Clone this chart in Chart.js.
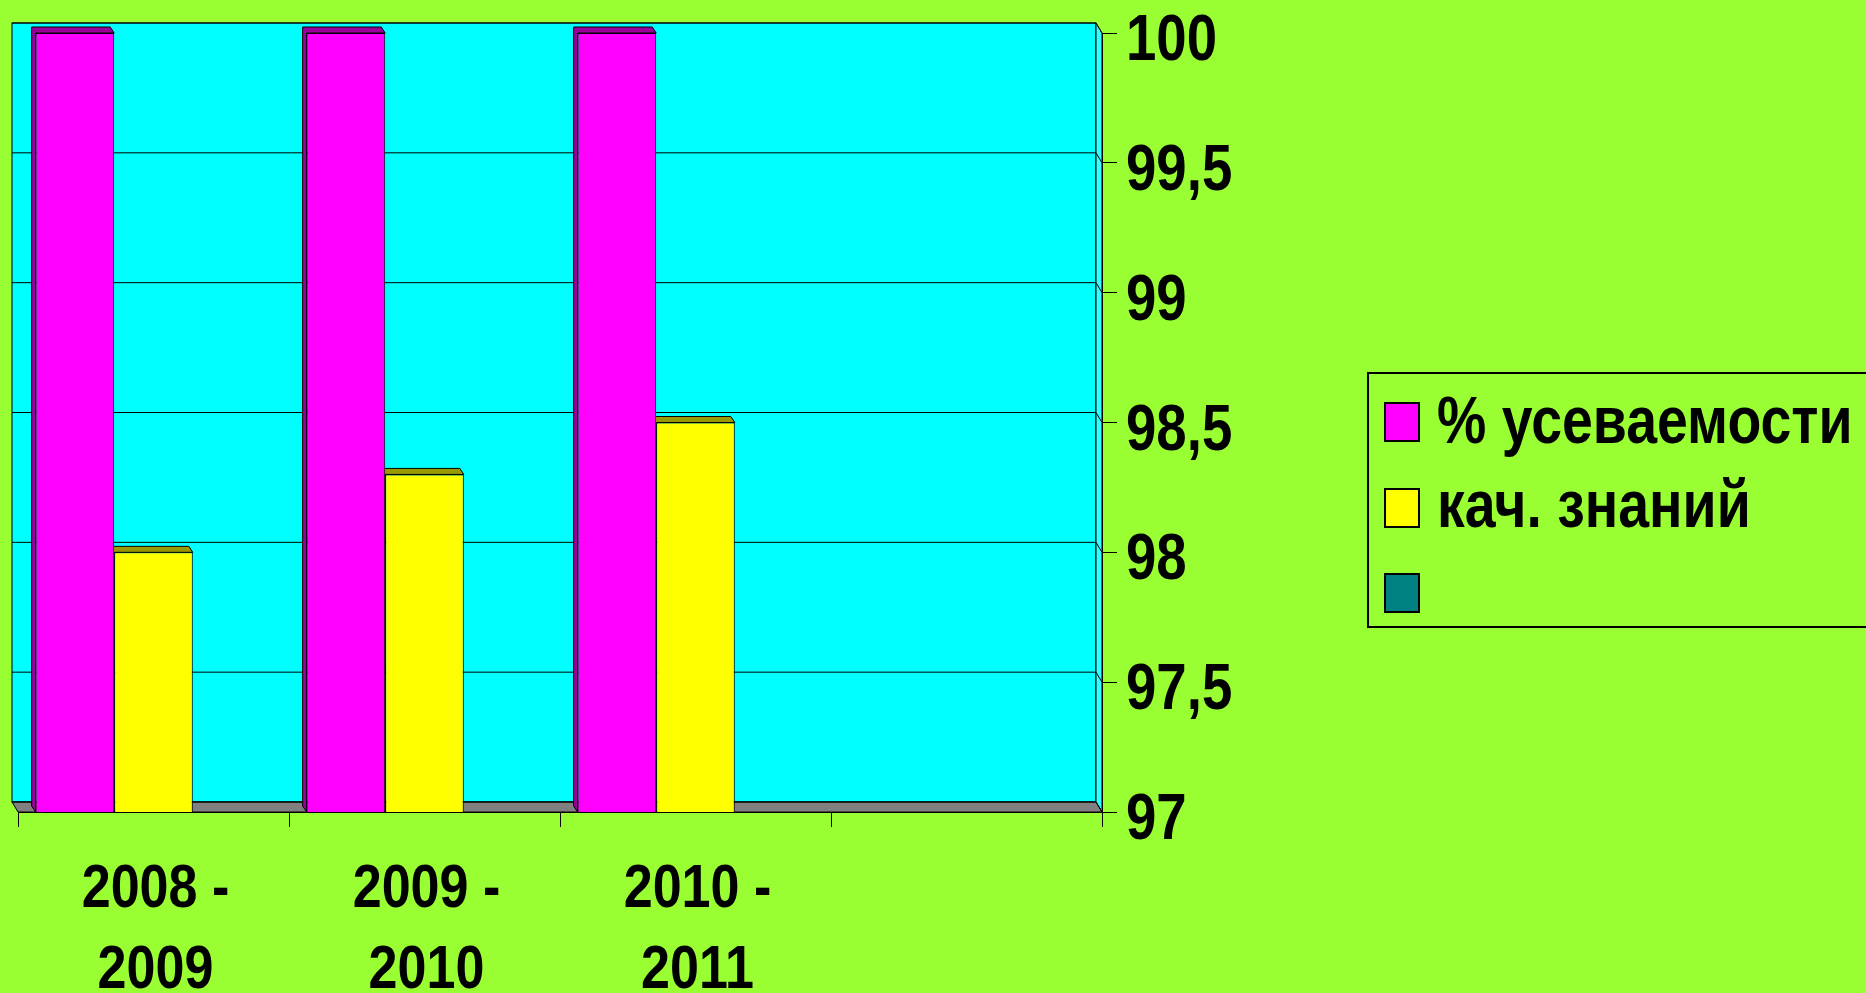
<!DOCTYPE html>
<html>
<head>
<meta charset="utf-8">
<script src="https://cdn.jsdelivr.net/npm/chart.js@4/dist/chart.umd.min.js"></script>
<style>
  html, body { margin: 0; padding: 0; background: #99ff33; overflow: hidden; }
  #wrap { position: relative; width: 1866px; height: 993px; }
  #legend-container {
    position: absolute; left: 1367px; top: 372px; width: 540px; height: 256px;
    border: 2px solid #000; box-sizing: border-box;
  }
  #legend-container ul { list-style: none; margin: 0; padding: 0; }
</style>
</head>
<body>
<div id="wrap">
  <canvas id="chart" width="1866" height="993"></canvas>
  <div id="legend-container"></div>
</div>
<script>
const categories = [['2008 -', '2009'], ['2009 -', '2010'], ['2010 -', '2011'], '']
const seriesNames = ['% усеваемости', 'кач. знаний', '']
const uspev = [100, 100, 100, null]
const kach = [98.0, 98.3, 98.5, null]
const third = [null, null, null, null]
const yTickLabels = ['97', '97,5', '98', '98,5', '99', '99,5', '100']

const colors = ['#ff00ff', '#ffff00', '#008080']
const darkColors = ['#990099', '#999900', '#004c4c']
const fontFamily = "'Liberation Sans Narrow', 'Arial Narrow', 'Liberation Sans', Arial, sans-serif"
// no narrow face is installed, so the text is squeezed horizontally
const NARROW = 0.84

// depth of the walls and of the bars
const WALL_DX = -6
const WALL_DY = -10
const BAR_DX = -4
const BAR_DY = -6

const wall3d = {
  id: 'wall3d',
  beforeDatasetsDraw(chart) {
    const { ctx, chartArea } = chart
    const { left: L, right: R, top: T, bottom: B } = chartArea
    const y = chart.scales.y
    ctx.save()
    ctx.lineWidth = 1
    ctx.strokeStyle = '#000'

    // back wall
    ctx.fillStyle = '#00ffff'
    ctx.fillRect(L + WALL_DX, T + WALL_DY, R - L, B - T)
    ctx.strokeRect(L + WALL_DX, T + WALL_DY, R - L, B - T)

    // right side wall
    ctx.beginPath()
    ctx.moveTo(R + WALL_DX, T + WALL_DY)
    ctx.lineTo(R, T)
    ctx.lineTo(R, B)
    ctx.lineTo(R + WALL_DX, B + WALL_DY)
    ctx.closePath()
    ctx.fillStyle = '#33ffff'
    ctx.fill()
    ctx.stroke()

    // floor
    ctx.beginPath()
    ctx.moveTo(L + WALL_DX, B + WALL_DY)
    ctx.lineTo(R + WALL_DX, B + WALL_DY)
    ctx.lineTo(R, B)
    ctx.lineTo(L, B)
    ctx.closePath()
    ctx.fillStyle = '#808080'
    ctx.fill()
    ctx.stroke()

    // grid lines on the wall
    y.ticks.forEach((t) => {
      const py = y.getPixelForValue(t.value)
      ctx.beginPath()
      ctx.moveTo(L + WALL_DX, py + WALL_DY)
      ctx.lineTo(R + WALL_DX, py + WALL_DY)
      ctx.lineTo(R, py)
      ctx.stroke()
    })

    // bar tops and left sides
    chart.data.datasets.forEach((ds, di) => {
      const meta = chart.getDatasetMeta(di)
      meta.data.forEach((bar, i) => {
        if (ds.data[i] == null) return
        const { x, y: top, base, width } = bar.getProps(['x', 'y', 'base', 'width'], true)
        const b = Math.min(base, B)
        const l = x - width / 2
        const r = x + width / 2
        ctx.fillStyle = darkColors[di]
        ctx.beginPath()
        ctx.moveTo(l, b)
        ctx.lineTo(l + BAR_DX, b + BAR_DY)
        ctx.lineTo(l + BAR_DX, top + BAR_DY)
        ctx.lineTo(r + BAR_DX, top + BAR_DY)
        ctx.lineTo(r, top)
        ctx.lineTo(l, top)
        ctx.closePath()
        ctx.fill()
        ctx.stroke()
      })
    })
    ctx.restore()
  },
}

// tick labels, drawn at the scales' own tick positions but narrowed
const narrowTicks = {
  id: 'narrowTicks',
  afterDraw(chart) {
    const { ctx, chartArea } = chart
    const xs = chart.scales.x
    const ys = chart.scales.y
    ctx.save()
    ctx.fillStyle = '#000'
    ctx.textBaseline = 'alphabetic'

    ctx.font = 'bold 65px ' + fontFamily
    ctx.textAlign = 'left'
    ys.ticks.forEach((t, i) => {
      const py = ys.getPixelForTick(i)
      ctx.save()
      ctx.translate(chartArea.right + 24, py + 27)
      ctx.scale(NARROW, 1)
      ctx.fillText(t.label, 0, 0)
      ctx.restore()
    })

    ctx.font = 'bold 62px ' + fontFamily
    ctx.textAlign = 'center'
    xs.ticks.forEach((t, i) => {
      const px = xs.getPixelForTick(i)
      const lines = Array.isArray(t.label) ? t.label : [t.label]
      lines.forEach((line, k) => {
        ctx.save()
        ctx.translate(px + 2, chartArea.bottom + 95 + k * 81)
        ctx.scale(NARROW, 1)
        ctx.fillText(line, 0, 0)
        ctx.restore()
      })
    })
    ctx.restore()
  },
}

const htmlLegendPlugin = {
  id: 'htmlLegend',
  afterUpdate(chart, args, options) {
    const box = document.getElementById(options.containerID)
    let ul = box.querySelector('ul')
    if (!ul) {
      ul = document.createElement('ul')
      box.appendChild(ul)
    }
    while (ul.firstChild) ul.firstChild.remove()

    chart.data.datasets.forEach((ds, i) => {
      const li = document.createElement('li')

      const sq = document.createElement('span')
      sq.style.position = 'absolute'
      sq.style.left = '15px'
      sq.style.top = (28 + i * 85.5) + 'px'
      sq.style.width = '36px'
      sq.style.height = '40px'
      sq.style.boxSizing = 'border-box'
      sq.style.background = colors[i]
      sq.style.border = '2px solid #000'

      const txt = document.createElement('span')
      txt.textContent = ds.label
      txt.style.position = 'absolute'
      txt.style.left = '68px'
      txt.style.top = (13 + i * 84) + 'px'
      txt.style.font = 'bold 66px ' + fontFamily
      txt.style.lineHeight = '66px'
      txt.style.whiteSpace = 'nowrap'
      txt.style.color = '#000'
      txt.style.transformOrigin = '0 0'
      txt.style.transform = 'scaleX(' + NARROW + ')'

      li.appendChild(sq)
      li.appendChild(txt)
      ul.appendChild(li)
    })
  },
}

const config = {
  type: 'bar',
  data: {
    labels: categories,
    datasets: [
      { label: seriesNames[0], data: uspev, backgroundColor: colors[0] },
      { label: seriesNames[1], data: kach, backgroundColor: colors[1] },
      { label: seriesNames[2], data: third, backgroundColor: colors[2] },
    ].map((d) => ({ ...d, borderColor: '#000', borderWidth: 1, borderSkipped: false,
      categoryPercentage: 0.87, barPercentage: 1.0 })),
  },
  options: {
    responsive: false,
    animation: false,
    events: [],
    layout: { padding: { left: 18, top: 33, right: 500, bottom: 0 } },
    scales: {
      x: {
        offset: true,
        grid: { display: true, offset: true, drawOnChartArea: false, drawTicks: true,
          tickLength: 15, color: '#000', lineWidth: 1 },
        border: { display: true, color: '#000', width: 1 },
        ticks: { display: false, autoSkip: false, maxRotation: 0 },
        afterFit: (axis) => { axis.height = 181 },
      },
      y: {
        position: 'right',
        min: 97,
        max: 100,
        grid: { display: true, drawOnChartArea: false, drawTicks: true,
          tickLength: 15, color: '#000', lineWidth: 1 },
        border: { display: true, color: '#000', width: 1 },
        ticks: {
          display: false,
          stepSize: 0.5,
          callback: (value, index) => yTickLabels[index],
        },
        afterFit: (axis) => { axis.width = 264 },
      },
    },
    plugins: {
      legend: { display: false },
      tooltip: { enabled: false },
      htmlLegend: { containerID: 'legend-container' },
    },
  },
  plugins: [wall3d, narrowTicks, htmlLegendPlugin],
}

const ctx = document.getElementById('chart').getContext('2d')
new Chart(ctx, config)
</script>
</body>
</html>
